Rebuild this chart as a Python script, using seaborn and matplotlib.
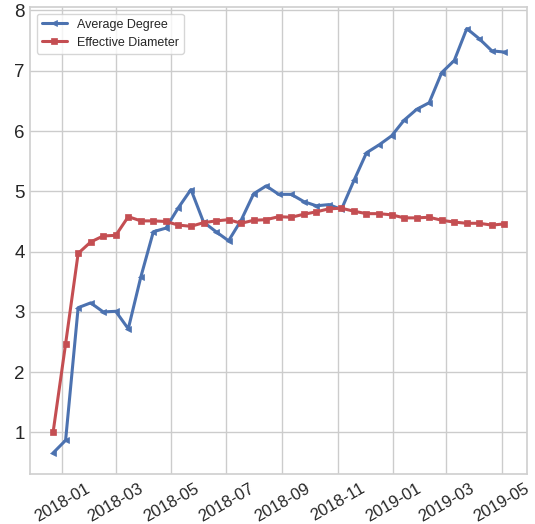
import matplotlib
matplotlib.use("Agg")
import matplotlib.pyplot as plt
import matplotlib.dates as mdates
import seaborn as sns
import pandas as pd

dates = pd.date_range(start="2017-12-22", end="2019-05-04", periods=37)

average_degree = [0.66, 0.87, 3.07, 3.15, 3.00, 3.01, 2.72, 3.58, 4.33, 4.39,
                  4.73, 5.03, 4.49, 4.33, 4.18, 4.52, 4.96, 5.09, 4.95, 4.95,
                  4.83, 4.76, 4.78, 4.70, 5.18, 5.64, 5.77, 5.92, 6.18, 6.36,
                  6.47, 6.97, 7.17, 7.70, 7.53, 7.33, 7.31]

effective_diameter = [1.00, 2.47, 3.97, 4.16, 4.26, 4.27, 4.58, 4.51, 4.51, 4.50,
                      4.44, 4.42, 4.48, 4.51, 4.53, 4.47, 4.52, 4.53, 4.58, 4.57,
                      4.62, 4.66, 4.71, 4.72, 4.67, 4.63, 4.63, 4.61, 4.56, 4.56,
                      4.57, 4.52, 4.49, 4.47, 4.47, 4.44, 4.46]

series_names = ["Average Degree", "Effective Diameter"]

sns.set_theme(style="whitegrid")
plt.rcParams["font.family"] = ["Liberation Sans", "DejaVu Sans"]

df = pd.DataFrame({"date": dates, series_names[0]: average_degree,
                   series_names[1]: effective_diameter})

fig, ax = plt.subplots(figsize=(5.35, 5.24), dpi=100)
fig.subplots_adjust(left=0.057, right=0.985, top=0.986, bottom=0.095)

blue = "#4C72B0"
red = "#C44E52"
sns.lineplot(data=df, x="date", y=series_names[0], ax=ax, color=blue,
             marker="<", markersize=4.5, markeredgecolor=blue, markeredgewidth=0.5,
             linewidth=2.2, label=series_names[0])
sns.lineplot(data=df, x="date", y=series_names[1], ax=ax, color=red,
             marker="s", markersize=4.3, markeredgecolor=red, markeredgewidth=0.5,
             linewidth=2.2, label=series_names[1])

ax.xaxis.set_major_locator(mdates.MonthLocator(bymonth=[1, 3, 5, 7, 9, 11]))
ax.xaxis.set_major_formatter(mdates.DateFormatter("%Y-%m"))
ax.set_xlabel("")
ax.set_ylabel("")
ax.tick_params(axis="both", length=0)
ax.tick_params(axis="x", labelsize=12, pad=5)
ax.tick_params(axis="y", labelsize=13.5, pad=4)
plt.setp(ax.get_xticklabels(), rotation=30, ha="center")

for s in ax.spines.values():
    s.set_edgecolor("#d0d0d0")

ax.legend(loc="upper left", fontsize=9, frameon=True)

fig.savefig("out.png", dpi=100)
